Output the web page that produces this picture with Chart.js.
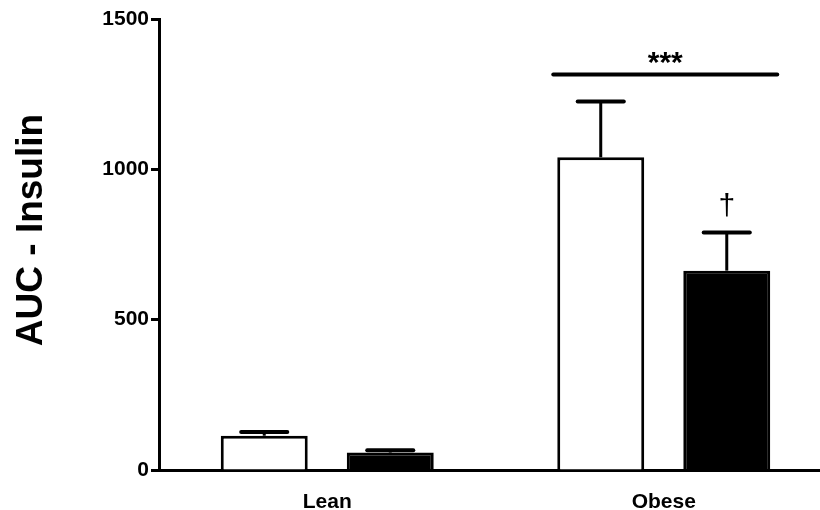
<!DOCTYPE html>
<html lang="en">
<head>
    <meta charset="UTF-8">
    <title>AUC - Insulin</title>
    <script src="https://cdn.jsdelivr.net/npm/chart.js@4.4.1/dist/chart.umd.min.js"></script>
    <style>
        html, body { margin: 0; padding: 0; background: #fff; }
        /* canvas is a bit wider than the window so the x axis runs off the right edge */
        .wrap { width: 820px; height: 510px; overflow: hidden; }
        canvas { display: block; }
    </style>
</head>
<body>
    <div class="wrap">
        <canvas id="aucChart" width="840" height="510"></canvas>
    </div>

    <script>
        // Group labels and bar values (mean + upper SEM)
        const groups = ['Lean', 'Obese'];
        const controlMean = [114, 1040];
        const controlSem = [12, 186];
        const treatedMean = [58, 663];
        const treatedSem = [8, 127];

        // y axis
        const yMax = 1500;
        const yStep = 500;
        const yTitle = 'AUC - Insulin';

        // significance marks
        const bracketLevel = 1315;   // height of the *** line over the Obese pair
        const bracketText = '***';
        const daggerText = '\u2020'; // over the treated Obese bar

        const FONT = '"Liberation Sans", Arial, Helvetica, sans-serif';

        // Upward-only error bars, the *** bracket, the dagger and the rotated y title
        const annotations = {
            id: 'annotations',
            afterDatasetsDraw(chart) {
                const ctx = chart.ctx;
                const y = chart.scales.y;
                const sems = [controlSem, treatedSem];
                const means = [controlMean, treatedMean];

                ctx.save();
                ctx.strokeStyle = '#000';
                ctx.fillStyle = '#000';

                sems.forEach((sem, d) => {
                    chart.getDatasetMeta(d).data.forEach((bar, i) => {
                        const top = y.getPixelForValue(means[d][i] + sem[i]);
                        const base = y.getPixelForValue(means[d][i]);
                        const half = bar.width * 0.265;
                        ctx.lineCap = 'butt';
                        ctx.lineWidth = 3;
                        ctx.beginPath();
                        ctx.moveTo(bar.x, base);
                        ctx.lineTo(bar.x, top);
                        ctx.stroke();
                        ctx.lineCap = 'round';
                        ctx.lineWidth = 4;
                        ctx.beginPath();
                        ctx.moveTo(bar.x - half, top);
                        ctx.lineTo(bar.x + half, top);
                        ctx.stroke();
                    });
                });

                // *** bracket across the Obese pair
                const w = chart.getDatasetMeta(0).data[1];
                const b = chart.getDatasetMeta(1).data[1];
                const by = y.getPixelForValue(bracketLevel);
                const x1 = w.x - w.width / 2 - 4;
                const x2 = b.x + b.width / 2 + 7;
                ctx.lineCap = 'round';
                ctx.lineWidth = 4;
                ctx.beginPath();
                ctx.moveTo(x1, by);
                ctx.lineTo(x2, by);
                ctx.stroke();

                ctx.textAlign = 'center';
                ctx.textBaseline = 'alphabetic';
                ctx.font = 'bold 30px ' + FONT;
                ctx.fillText(bracketText, (x1 + x2) / 2, by - 3);

                // dagger over treated Obese
                const dTop = y.getPixelForValue(treatedMean[1] + treatedSem[1]);
                ctx.font = '30px ' + FONT;
                ctx.fillText(daggerText, b.x, dTop - 17);

                // rotated y axis title
                ctx.translate(42, 230);
                ctx.rotate(-Math.PI / 2);
                ctx.font = 'bold 37px ' + FONT;
                ctx.fillText(yTitle, 0, 0);
                ctx.restore();
            }
        };

        new Chart(document.getElementById('aucChart'), {
            type: 'bar',
            data: {
                labels: groups,
                datasets: [
                    {
                        label: 'Control',
                        data: controlMean,
                        backgroundColor: '#ffffff',
                        borderColor: '#000000',
                        borderWidth: 3,
                        borderSkipped: 'start'
                    },
                    {
                        label: 'Treated',
                        data: treatedMean,
                        backgroundColor: '#000000',
                        borderColor: '#000000',
                        borderWidth: 3,
                        borderSkipped: 'start'
                    }
                ]
            },
            options: {
                responsive: false,
                animation: false,
                categoryPercentage: 0.749,
                barPercentage: 0.69,
                layout: { padding: { top: 19, right: 8, bottom: 0, left: 0 } },
                plugins: {
                    legend: { display: false },
                    tooltip: { enabled: false }
                },
                scales: {
                    x: {
                        grid: { display: false },
                        border: { display: true, color: '#000', width: 3 },
                        ticks: {
                            color: '#000',
                            padding: 12,
                            font: { family: FONT, size: 21, weight: 'bold' }
                        },
                        afterFit(scale) { scale.height = 40; }
                    },
                    y: {
                        min: 0,
                        max: yMax,
                        grid: {
                            drawOnChartArea: false,
                            drawTicks: true,
                            tickLength: 8,
                            tickWidth: 3,
                            tickColor: '#000'
                        },
                        border: { display: true, color: '#000', width: 3 },
                        ticks: {
                            stepSize: yStep,
                            color: '#000',
                            padding: 2,
                            font: { family: FONT, size: 21, weight: 'bold' },
                            callback: (v) => String(v)
                        },
                        afterFit(scale) { scale.width = 159; }
                    }
                }
            },
            plugins: [annotations]
        });
    </script>
</body>
</html>
